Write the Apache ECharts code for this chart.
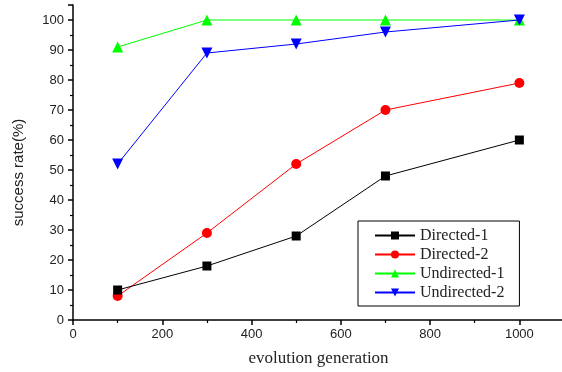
<!DOCTYPE html>
<html>
<head>
<meta charset="utf-8">
<script src="https://cdn.jsdelivr.net/npm/echarts@6/dist/echarts.min.js"></script>
<style>
html,body{margin:0;padding:0;background:#fff;}
#chart{width:562px;height:372px;}
</style>
</head>
<body>
<div id="chart"></div>
<script>
var generations = [100, 300, 500, 700, 1000];
var directed1 = [10, 18, 28, 48, 60];
var directed2 = [8, 29, 52, 70, 79];
var undirected1 = [91, 100, 100, 100, 100];
var undirected2 = [52, 89, 92, 96, 100];
var seriesNames = ['Directed-1', 'Directed-2', 'Undirected-1', 'Undirected-2'];

function pairs(vals) {
  return generations.map(function (g, i) { return [g, vals[i]]; });
}

var chart = echarts.init(document.getElementById('chart'));
var serifFont = '"Liberation Serif", "Times New Roman", serif';
var sansFont = '"Liberation Sans", Arial, sans-serif';

function mkSeries(name, vals, color, symbol, size, z) {
  return {
    name: name,
    type: 'line',
    data: pairs(vals),
    symbol: symbol,
    symbolSize: size,
    showAllSymbol: true,
    lineStyle: { color: color, width: 1 },
    itemStyle: { color: color },
    z: z,
    animation: false
  };
}

chart.setOption({
  backgroundColor: '#fff',
  animation: false,
  grid: { left: 73, top: 5, bottom: 52, right: -2, containLabel: false, outerBoundsMode: 'none' },
  xAxis: {
    type: 'value',
    min: 0,
    max: 1100,
    interval: 200,
    name: 'evolution generation',
    nameLocation: 'middle',
    nameGap: 30,
    nameTextStyle: { fontFamily: serifFont, fontSize: 17, color: '#222' },
    axisLine: { lineStyle: { color: '#000', width: 1.5 } },
    axisTick: { show: true, length: 5, lineStyle: { color: '#000', width: 1.5 } },
    minorTick: { show: true, splitNumber: 2, length: 3, lineStyle: { color: '#000', width: 1.2 } },
    splitLine: { show: false },
    axisLabel: { showMaxLabel: false, margin: 8, fontFamily: sansFont, fontSize: 13, color: '#222',
      formatter: function (v) { return String(v); } }
  },
  yAxis: {
    type: 'value',
    min: 0,
    max: 105,
    interval: 10,
    name: 'success rate(%)',
    nameLocation: 'middle',
    nameGap: 47,
    nameTextStyle: { fontFamily: sansFont, fontSize: 15, color: '#222', padding: [0, 20, 0, 0] },
    axisLine: { lineStyle: { color: '#000', width: 1.5 } },
    axisTick: { show: true, length: 5, lineStyle: { color: '#000', width: 1.5 } },
    minorTick: { show: true, splitNumber: 2, length: 3, lineStyle: { color: '#000', width: 1.2 } },
    splitLine: { show: false },
    axisLabel: { showMaxLabel: false, margin: 9, fontFamily: sansFont, fontSize: 13, color: '#222' }
  },
  legend: {
    data: seriesNames,
    orient: 'vertical',
    left: 358,
    top: 221,
    padding: [5, 15, 4, 16],
    itemGap: 0,
    itemWidth: 40,
    itemHeight: 10,
    borderColor: '#000',
    borderWidth: 1,
    backgroundColor: '#fff',
    textStyle: { fontFamily: serifFont, fontSize: 16, color: '#222', lineHeight: 19 }
  },
  series: [
    mkSeries(seriesNames[0], directed1, '#000000', 'rect', 9, 4),
    mkSeries(seriesNames[1], directed2, '#ff0000', 'circle', 10, 3),
    mkSeries(seriesNames[2], undirected1, '#00ff00', 'triangle', 11, 2),
    mkSeries(seriesNames[3], undirected2, '#0000ff', 'path://M0,0 L10,0 L5,10 Z', 11, 5)
  ]
});
</script>
</body>
</html>
